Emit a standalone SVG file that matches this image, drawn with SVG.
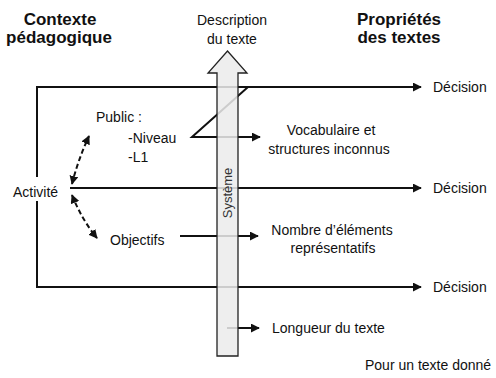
<svg xmlns="http://www.w3.org/2000/svg" width="496" height="378" viewBox="0 0 496 378">
<style>
text{font-family:"Liberation Sans",Arial,sans-serif;font-size:14px;fill:#111}
.t{font-weight:bold;font-size:17px}
.c{text-anchor:middle}
.ln{stroke:#111;stroke-width:2;fill:none}
.ds{stroke:#111;stroke-width:2;fill:none;stroke-dasharray:5 3}
</style>
<defs>
<marker id="ah" viewBox="0 0 10 10" refX="9" refY="5" markerWidth="4.5" markerHeight="4.5" orient="auto-start-reverse" markerUnits="strokeWidth">
<path d="M0,0 L10,5 L0,10 z" fill="#111"/>
</marker>
</defs>
<rect width="496" height="378" fill="#fff"/>
<g id="titles">
<text class="t c" x="60" y="25">Contexte</text>
<text class="t c" x="59" y="43">pédagogique</text>
<text class="c" x="232" y="25">Description</text>
<text class="c" x="232" y="44">du texte</text>
<text class="t c" x="399" y="25">Propriétés</text>
<text class="t c" x="399" y="43">des textes</text>
</g>
<g id="connectors">
<path class="ln" d="M37,177 V87 H421" marker-end="url(#ah)"/>
<path class="ln" d="M37,201 V287 H421" marker-end="url(#ah)"/>
<path class="ln" d="M70,188 H421" marker-end="url(#ah)"/>
<path class="ln" d="M248,87 L192,137 H260" marker-end="url(#ah)"/>
<path class="ln" d="M180,236 H258" marker-end="url(#ah)"/>
<path class="ln" d="M227,328 H259" marker-end="url(#ah)"/>
<path class="ds" d="M72,184 Q78,160 89,136" marker-start="url(#ah)" marker-end="url(#ah)"/>
<path class="ds" d="M72,195 Q82,220 97,238" marker-start="url(#ah)" marker-end="url(#ah)"/>
</g>
<g id="systeme">
<polygon points="227.5,51 247,73 238,73 238,356 217,356 217,73 208,73" fill="#ebebeb" fill-opacity="0.86" stroke="#222" stroke-width="1.3"/>
<text transform="translate(232,193) rotate(-90)" class="c" style="font-size:13px;fill:#333">Système</text>
</g>
<g id="public">
<text x="96" y="122">Public :</text>
<text x="128" y="143">-Niveau</text>
<text x="128" y="162">-L1</text>
</g>
<g id="activite"><text x="13" y="197">Activité</text></g>
<g id="objectifs"><text x="110" y="245">Objectifs</text></g>
<g id="vocabulaire">
<text class="c" x="331" y="135">Vocabulaire et</text>
<text class="c" x="329" y="154">structures inconnus</text>
</g>
<g id="nombre">
<text class="c" x="332" y="235">Nombre d’éléments</text>
<text class="c" x="333" y="253">représentatifs</text>
</g>
<g id="longueur"><text x="272" y="333">Longueur du texte</text></g>
<g id="decision1"><text x="433" y="92">Décision</text></g>
<g id="decision2"><text x="433" y="193">Décision</text></g>
<g id="decision3"><text x="433" y="292">Décision</text></g>
<g id="note"><text x="365" y="370">Pour un texte donné</text></g>
</svg>
